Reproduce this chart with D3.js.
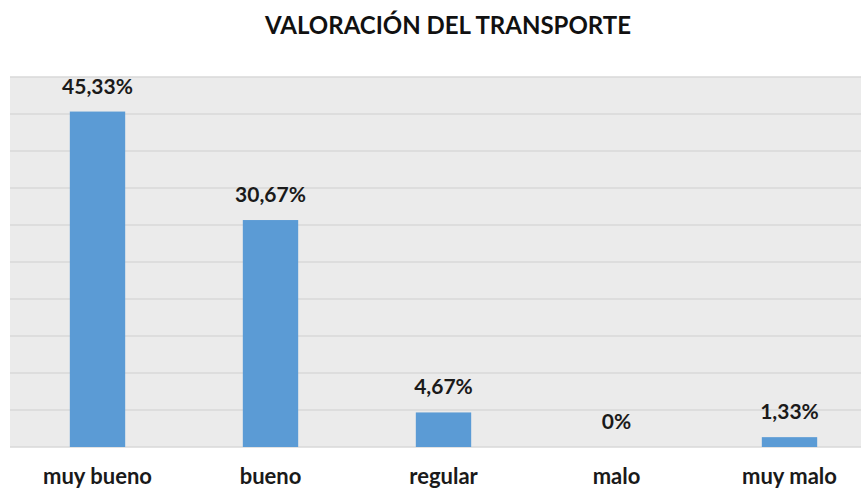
<!DOCTYPE html>
<html>
<head>
<meta charset="utf-8">
<script src="https://cdn.jsdelivr.net/npm/d3@7"></script>
<style>
  body { margin: 0; background: #fff; }
  svg { display: block; font-family: Lato, 'Open Sans', sans-serif; }
  .bar { fill: #5b9bd5; }
  .grid line { stroke: #d9d9d9; stroke-width: 1.5; }
  .value-label { font-weight: bold; font-size: 21px; fill: #1a1a1a; text-anchor: middle; }
  .cat-label { font-weight: bold; font-size: 22px; fill: #1a1a1a; text-anchor: middle; }
  .title { font-weight: bold; font-size: 24px; fill: #111; text-anchor: middle; }
</style>
</head>
<body>
<svg width="861" height="488"></svg>
<script>
// data
const categories = ['muy bueno', 'bueno', 'regular', 'malo', 'muy malo'];
const values = [45.33, 30.67, 4.67, 0, 1.33];
const valueLabels = ['45,33%', '30,67%', '4,67%', '0%', '1,33%'];
const gridTicks = [0, 5, 10, 15, 20, 25, 30, 35, 40, 45, 50];

const svg = d3.select('svg');

const plotLeft = 11, plotRight = 876, plotTop = 77, plotBottom = 447;

const xScale = d3.scaleBand()
  .domain(categories)
  .range([plotLeft, plotRight])
  .paddingInner(0.68)
  .paddingOuter(0.34);

const yScale = d3.scaleLinear()
  .domain([0, 50])
  .range([plotBottom, plotTop]);

// plot background
svg.append('rect')
  .attr('x', 10)
  .attr('y', plotTop)
  .attr('width', 861 - 10)
  .attr('height', plotBottom - plotTop)
  .attr('fill', '#ebebeb');

// gridlines
svg.append('g')
  .attr('class', 'grid')
  .selectAll('line').data(gridTicks)
  .enter().append('line')
  .attr('x1', 10)
  .attr('x2', 861)
  .attr('y1', d => yScale(d))
  .attr('y2', d => yScale(d));

// bars
svg.selectAll('rect.bar').data(values)
  .enter().append('rect')
  .attr('class', 'bar')
  .attr('x', (d, i) => xScale(categories[i]))
  .attr('width', xScale.bandwidth())
  .attr('y', d => yScale(d))
  .attr('height', d => yScale(0) - yScale(d));

// value labels
svg.selectAll('text.value-label').data(values)
  .enter().append('text')
  .attr('class', 'value-label')
  .attr('x', (d, i) => xScale(categories[i]) + xScale.bandwidth() / 2)
  .attr('y', d => yScale(d) - 18)
  .text((d, i) => valueLabels[i]);

// category labels
svg.selectAll('text.cat-label').data(categories)
  .enter().append('text')
  .attr('class', 'cat-label')
  .attr('x', d => xScale(d) + xScale.bandwidth() / 2)
  .attr('y', 484)
  .text(d => d);

svg.append('text')
  .attr('class', 'title')
  .attr('x', 448)
  .attr('y', 34)
  .text('VALORACIÓN DEL TRANSPORTE');
</script>
</body>
</html>
